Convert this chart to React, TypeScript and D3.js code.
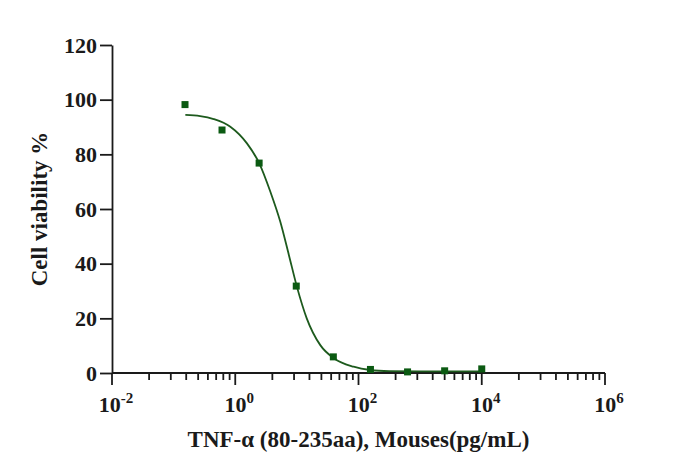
import { useEffect, useRef } from "react";
import * as d3 from "d3";

// measured points (pg/mL, % viability)
const concentrations = [0.153, 0.61, 2.44, 9.77, 39.06, 156.25, 625, 2500, 10000];
const viability = [98.2, 88.9, 76.8, 31.8, 5.9, 1.3, 0.4, 0.8, 1.5];

// fitted curve (log10 of concentration, % viability)
const curveLogX = [-0.81, -0.57, -0.35, -0.08, 0.19, 0.39, 0.57, 0.73, 0.87, 1.0, 1.16, 1.38, 1.6, 1.92, 2.19, 2.5, 3.0, 3.5, 4.0];
const curveY = [94.4, 94.0, 92.9, 90.1, 84.0, 76.7, 66.3, 55.4, 43.2, 31.6, 20.0, 10.2, 5.4, 2.3, 1.1, 0.7, 0.6, 0.6, 0.6];

const yTicks = [0, 20, 40, 60, 80, 100, 120];
const xMajorExponents = [-2, 0, 2, 4, 6];
const minorMultipliers = [2, 3, 4, 5, 6, 7, 8, 9];

const xTitle = "TNF-α (80-235aa), Mouses(pg/mL)";
const yTitle = "Cell viability %";

const FONT = "'Times New Roman', 'Liberation Serif', serif";
const INK = "#1a1a1a";
const MARK = "#0b5a12";
const LINE = "#1d5a1d";

export default function App() {
  const svgRef = useRef<SVGSVGElement | null>(null);

  useEffect(() => {
    if (!svgRef.current) return;
    const svg = d3.select(svgRef.current);
    svg.selectAll("*").remove();

    const x = d3.scaleLog().domain([1e-2, 1e6]).range([112, 605]);
    const y = d3.scaleLinear().domain([0, 120]).range([373, 45]);

    // y axis
    const yAxis = svg
      .append("g")
      .attr("transform", `translate(${x.range()[0]},0)`)
      .call(d3.axisLeft(y).tickValues(yTicks).tickSize(12).tickPadding(3).tickSizeOuter(0));
    yAxis.select(".domain").attr("stroke", INK).attr("stroke-width", 1.8);
    yAxis.selectAll(".tick line").attr("stroke", INK).attr("stroke-width", 1.8);
    yAxis
      .selectAll(".tick text")
      .attr("fill", INK)
      .style("font-family", FONT)
      .style("font-size", "22px")
      .style("font-weight", "bold");

    // x axis
    const xAxis = svg.append("g").attr("transform", `translate(0,${y(0)})`);
    xAxis
      .append("line")
      .attr("x1", x.range()[0])
      .attr("x2", x.range()[1])
      .attr("stroke", INK)
      .attr("stroke-width", 1.8);

    xMajorExponents.forEach((e, i) => {
      const px = x(Math.pow(10, e));
      xAxis
        .append("line")
        .attr("x1", px)
        .attr("x2", px)
        .attr("y1", 0)
        .attr("y2", 12)
        .attr("stroke", INK)
        .attr("stroke-width", 1.8);

      const label = xAxis
        .append("text")
        .attr("x", px + 4)
        .attr("y", 39)
        .attr("text-anchor", "middle")
        .attr("fill", INK)
        .style("font-family", FONT)
        .style("font-size", "22px")
        .style("font-weight", "bold");
      label.append("tspan").text("10");
      label
        .append("tspan")
        .attr("dy", -9)
        .style("font-size", "15px")
        .text(String(e));

      if (i < xMajorExponents.length - 1) {
        minorMultipliers.forEach((k) => {
          const mx = x(Math.pow(10, e) * k * k);
          xAxis
            .append("line")
            .attr("x1", mx)
            .attr("x2", mx)
            .attr("y1", 0)
            .attr("y2", 7)
            .attr("stroke", INK)
            .attr("stroke-width", 1.8);
        });
      }
    });

    // fitted curve
    const line = d3
      .line<number>()
      .x((_, i) => x(Math.pow(10, curveLogX[i])))
      .y((d) => y(d))
      .curve(d3.curveMonotoneX);

    svg
      .append("path")
      .datum(curveY)
      .attr("fill", "none")
      .attr("stroke", LINE)
      .attr("stroke-width", 1.8)
      .attr("d", line);

    // data points
    const size = 7;
    svg
      .append("g")
      .selectAll("rect")
      .data(viability)
      .enter()
      .append("rect")
      .attr("x", (_, i) => x(concentrations[i]) - size / 2)
      .attr("y", (d) => y(d) - size / 2)
      .attr("width", size)
      .attr("height", size)
      .attr("fill", MARK);

    // titles
    svg
      .append("text")
      .attr("x", (x.range()[0] + x.range()[1]) / 2)
      .attr("y", 447)
      .attr("text-anchor", "middle")
      .attr("fill", INK)
      .style("font-family", FONT)
      .style("font-size", "23px")
      .style("font-weight", "bold")
      .text(xTitle);

    svg
      .append("text")
      .attr("transform", `translate(47,${(y(0) + y(120)) / 2}) rotate(-90)`)
      .attr("text-anchor", "middle")
      .attr("fill", INK)
      .style("font-family", FONT)
      .style("font-size", "23px")
      .style("font-weight", "bold")
      .text(yTitle);
  }, []);

  return (
    <svg
      ref={svgRef}
      width={674}
      height={475}
      style={{ position: "fixed", left: 0, top: 0, background: "#fff" }}
    />
  );
}
